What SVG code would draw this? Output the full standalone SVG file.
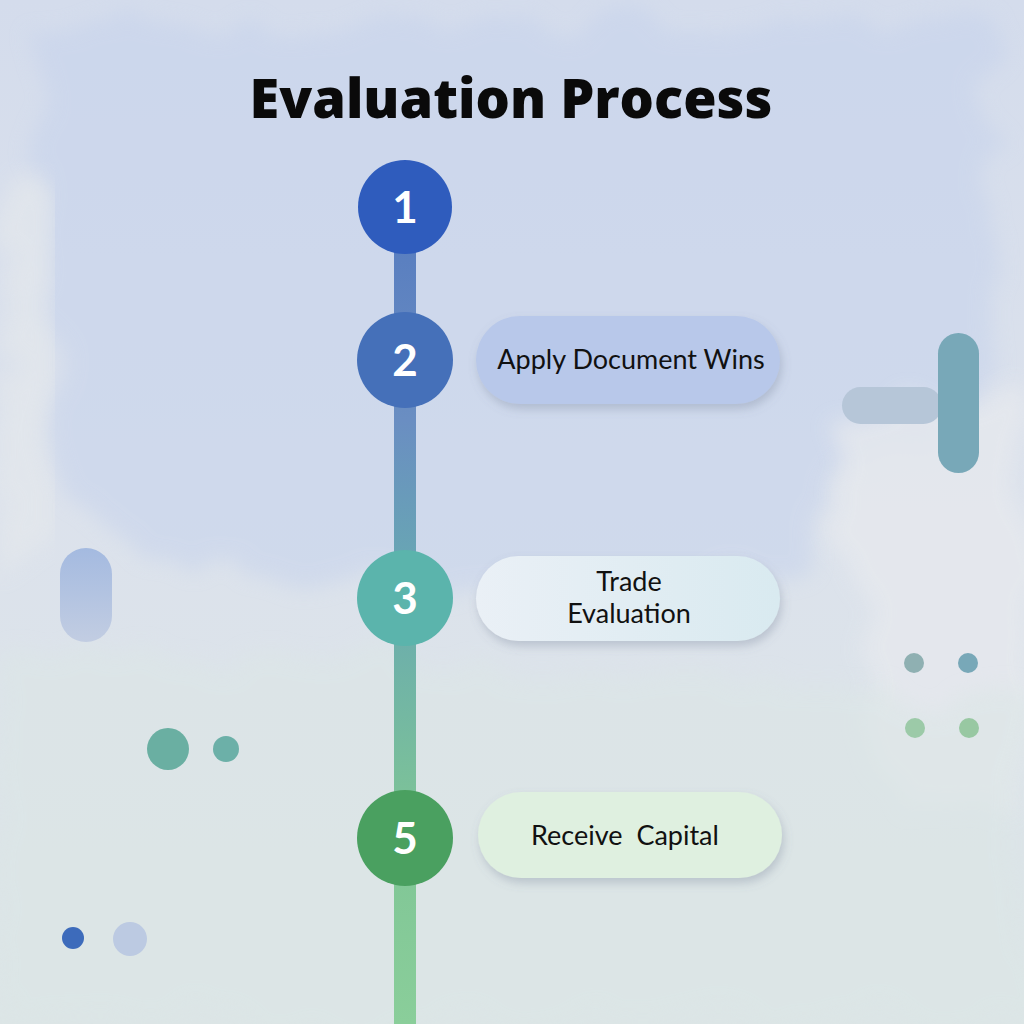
<svg xmlns="http://www.w3.org/2000/svg" width="1024" height="1024" viewBox="0 0 1024 1024">
<defs>
<style>
.num{font-family:Lato,"Open Sans","Noto Sans",sans-serif;font-weight:700;font-size:44px;fill:#ffffff;text-anchor:middle}
.lbl{font-family:Lato,"Noto Sans","Liberation Sans",sans-serif;font-size:27px;fill:#111111;text-anchor:middle}
.title{font-family:"Open Sans",Lato,"Liberation Sans",sans-serif;font-weight:800;font-size:54px;fill:#0a0a0a;text-anchor:middle}
</style>
<linearGradient id="bg" x1="0" y1="0" x2="0" y2="1">
<stop offset="0" stop-color="#d4dcec"/>
<stop offset="0.5" stop-color="#dce2ec"/>
<stop offset="1" stop-color="#dce5e6"/>
</linearGradient>
<linearGradient id="line" gradientUnits="userSpaceOnUse" x1="0" y1="250" x2="0" y2="1024">
<stop offset="0" stop-color="#5a7fc0"/>
<stop offset="0.22" stop-color="#6a8ec2"/>
<stop offset="0.42" stop-color="#68a8b2"/>
<stop offset="0.6" stop-color="#74b8a2"/>
<stop offset="0.75" stop-color="#7fc596"/>
<stop offset="1" stop-color="#8ace9a"/>
</linearGradient>
<linearGradient id="p3" x1="0" y1="0" x2="1" y2="0">
<stop offset="0" stop-color="#eaf0f6"/>
<stop offset="1" stop-color="#d9eaf0"/>
</linearGradient>
<linearGradient id="lp" x1="0" y1="0" x2="0" y2="1">
<stop offset="0" stop-color="#a4bae0"/>
<stop offset="1" stop-color="#c2cde2"/>
</linearGradient>
<filter id="shadow" x="-10%" y="-30%" width="120%" height="170%">
<feDropShadow dx="2" dy="5" stdDeviation="5" flood-color="#6a7890" flood-opacity="0.3"/>
</filter>
<filter id="wash" x="-10%" y="-10%" width="120%" height="120%">
<feTurbulence type="fractalNoise" baseFrequency="0.012" numOctaves="3" seed="4" result="n"/>
<feDisplacementMap in="SourceGraphic" in2="n" scale="70" xChannelSelector="R" yChannelSelector="G" result="d"/>
<feGaussianBlur in="d" stdDeviation="10"/>
</filter>
</defs>
<g id="background">
<rect width="1024" height="1024" fill="url(#bg)"/>
<path d="M40 30 L990 20 L1000 300 L960 420 L830 460 L820 560 L600 600 L300 580 L120 560 L60 480 L30 300 Z" fill="#c6d3ec" opacity="0.55" filter="url(#wash)"/>
<path d="M830 420 L1024 380 L1024 820 L900 800 L850 650 Z" fill="#e6e9ee" opacity="0.8" filter="url(#wash)"/>
<path d="M0 200 L50 210 L40 560 L0 580 Z" fill="#e4e8ec" opacity="0.7" filter="url(#wash)"/>
<path d="M0 640 L1024 700 L1024 1024 L0 1024 Z" fill="#dce6e6" opacity="0.6" filter="url(#wash)"/>
</g>
<g id="decorations">
<rect x="842" y="387" width="100" height="37" rx="18.5" fill="#b6c6d8"/>
<rect x="938" y="333" width="41" height="140" rx="20.5" fill="#78a8b8"/>
<circle cx="914" cy="663" r="10" fill="#8fb0b2"/>
<circle cx="968" cy="663" r="10" fill="#78a8b8"/>
<circle cx="915" cy="728" r="10" fill="#9ccaa8"/>
<circle cx="969" cy="728" r="10" fill="#98c8a2"/>
<rect x="60" y="548" width="52" height="94" rx="26" fill="url(#lp)"/>
<circle cx="168" cy="749" r="21" fill="#6aafa2"/>
<circle cx="226" cy="749" r="13" fill="#6cb0a8"/>
<circle cx="73" cy="938" r="11" fill="#3d6bbb"/>
<circle cx="130" cy="939" r="17" fill="#bccae2"/>
</g>
<g id="connectors">
<rect x="394" y="240" width="22" height="784" fill="url(#line)"/>
</g>
<text id="title" class="title" x="511" y="118">Evaluation Process</text>
<g id="step1">
<circle cx="405" cy="207" r="47" fill="#2f5cbd"/>
<text class="num" x="405" y="223">1</text>
</g>
<g id="step2">
<circle cx="405" cy="360" r="48" fill="#4570b9"/>
<text class="num" x="405" y="376">2</text>
<rect x="476" y="316" width="304" height="88" rx="44" fill="#b8c8ea" filter="url(#shadow)"/>
<text class="lbl" x="631" y="369">Apply Document Wins</text>
</g>
<g id="step3">
<circle cx="405" cy="598" r="48" fill="#5bb4ac"/>
<text class="num" x="405" y="614">3</text>
<rect x="476" y="556" width="304" height="85" rx="42.5" fill="url(#p3)" filter="url(#shadow)"/>
<text class="lbl" x="629" y="591">Trade</text>
<text class="lbl" x="629" y="623">Evaluation</text>
</g>
<g id="step5">
<circle cx="405" cy="838" r="48" fill="#4aa060"/>
<text class="num" x="405" y="854">5</text>
<rect x="478" y="792" width="304" height="86" rx="43" fill="#dff0e0" filter="url(#shadow)"/>
<text class="lbl" x="625" y="845" xml:space="preserve">Receive  Capital</text>
</g>
</svg>
